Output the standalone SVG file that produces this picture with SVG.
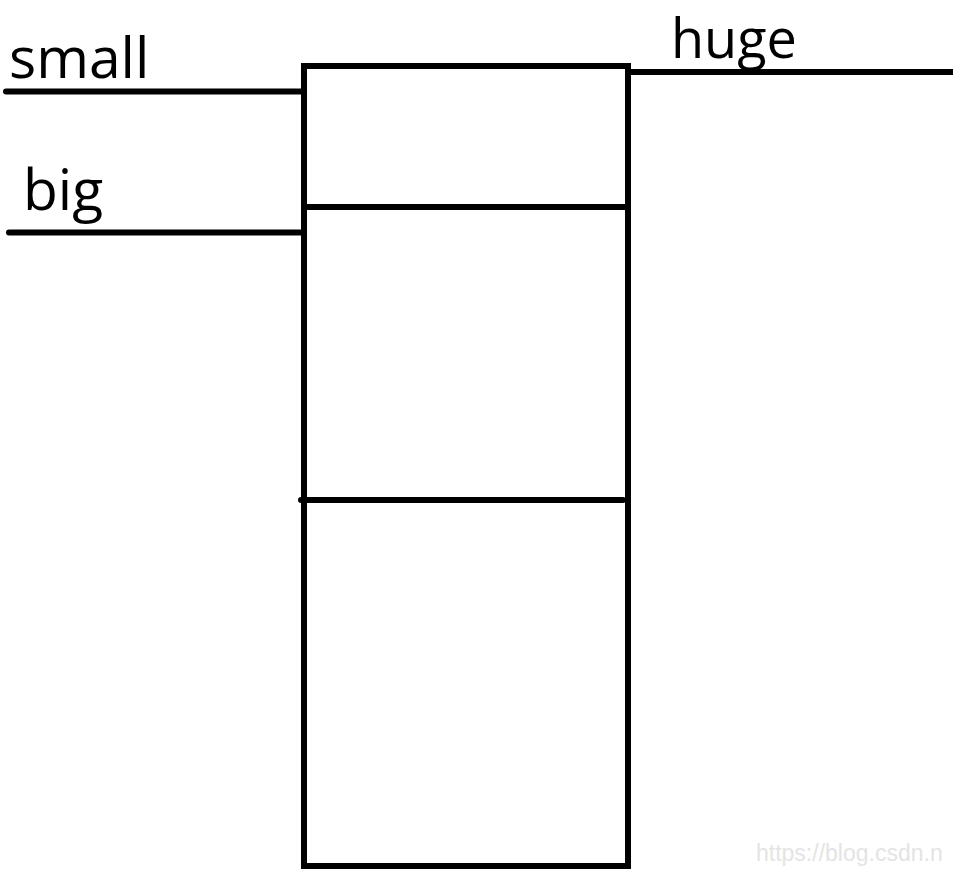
<svg xmlns="http://www.w3.org/2000/svg" width="953" height="870" viewBox="0 0 953 870">
<style>
.s{stroke:#000;stroke-width:6;fill:none}
.r{stroke-linecap:round}
.t{font-family:"Open Sans","Noto Sans",sans-serif;font-size:57px;fill:#000}
.w{font-family:"Liberation Sans",Arial,sans-serif;font-size:23px;fill:#e4e4e4}
</style>
<rect width="953" height="870" fill="#fff"/>
<g id="stack">
<rect class="s" x="304" y="66" width="324" height="800"/>
<line class="s" x1="304" y1="207" x2="625" y2="207"/>
<line class="s r" x1="301" y1="500" x2="623" y2="500"/>
</g>
<g id="connectors">
<line class="s r" x1="6" y1="91.5" x2="304" y2="91.5"/>
<line class="s r" x1="9" y1="232.5" x2="304" y2="232.5"/>
<line class="s" x1="628" y1="72" x2="953" y2="72"/>
</g>
<g id="label-small"><text class="t" x="9" y="78">small</text></g>
<g id="label-big"><text class="t" x="23" y="210">big</text></g>
<g id="label-huge"><text class="t" x="671" y="58" style="font-size:54px">huge</text></g>
<g id="watermark"><text class="w" x="756" y="861">https://blog.csdn.n</text></g>
</svg>
